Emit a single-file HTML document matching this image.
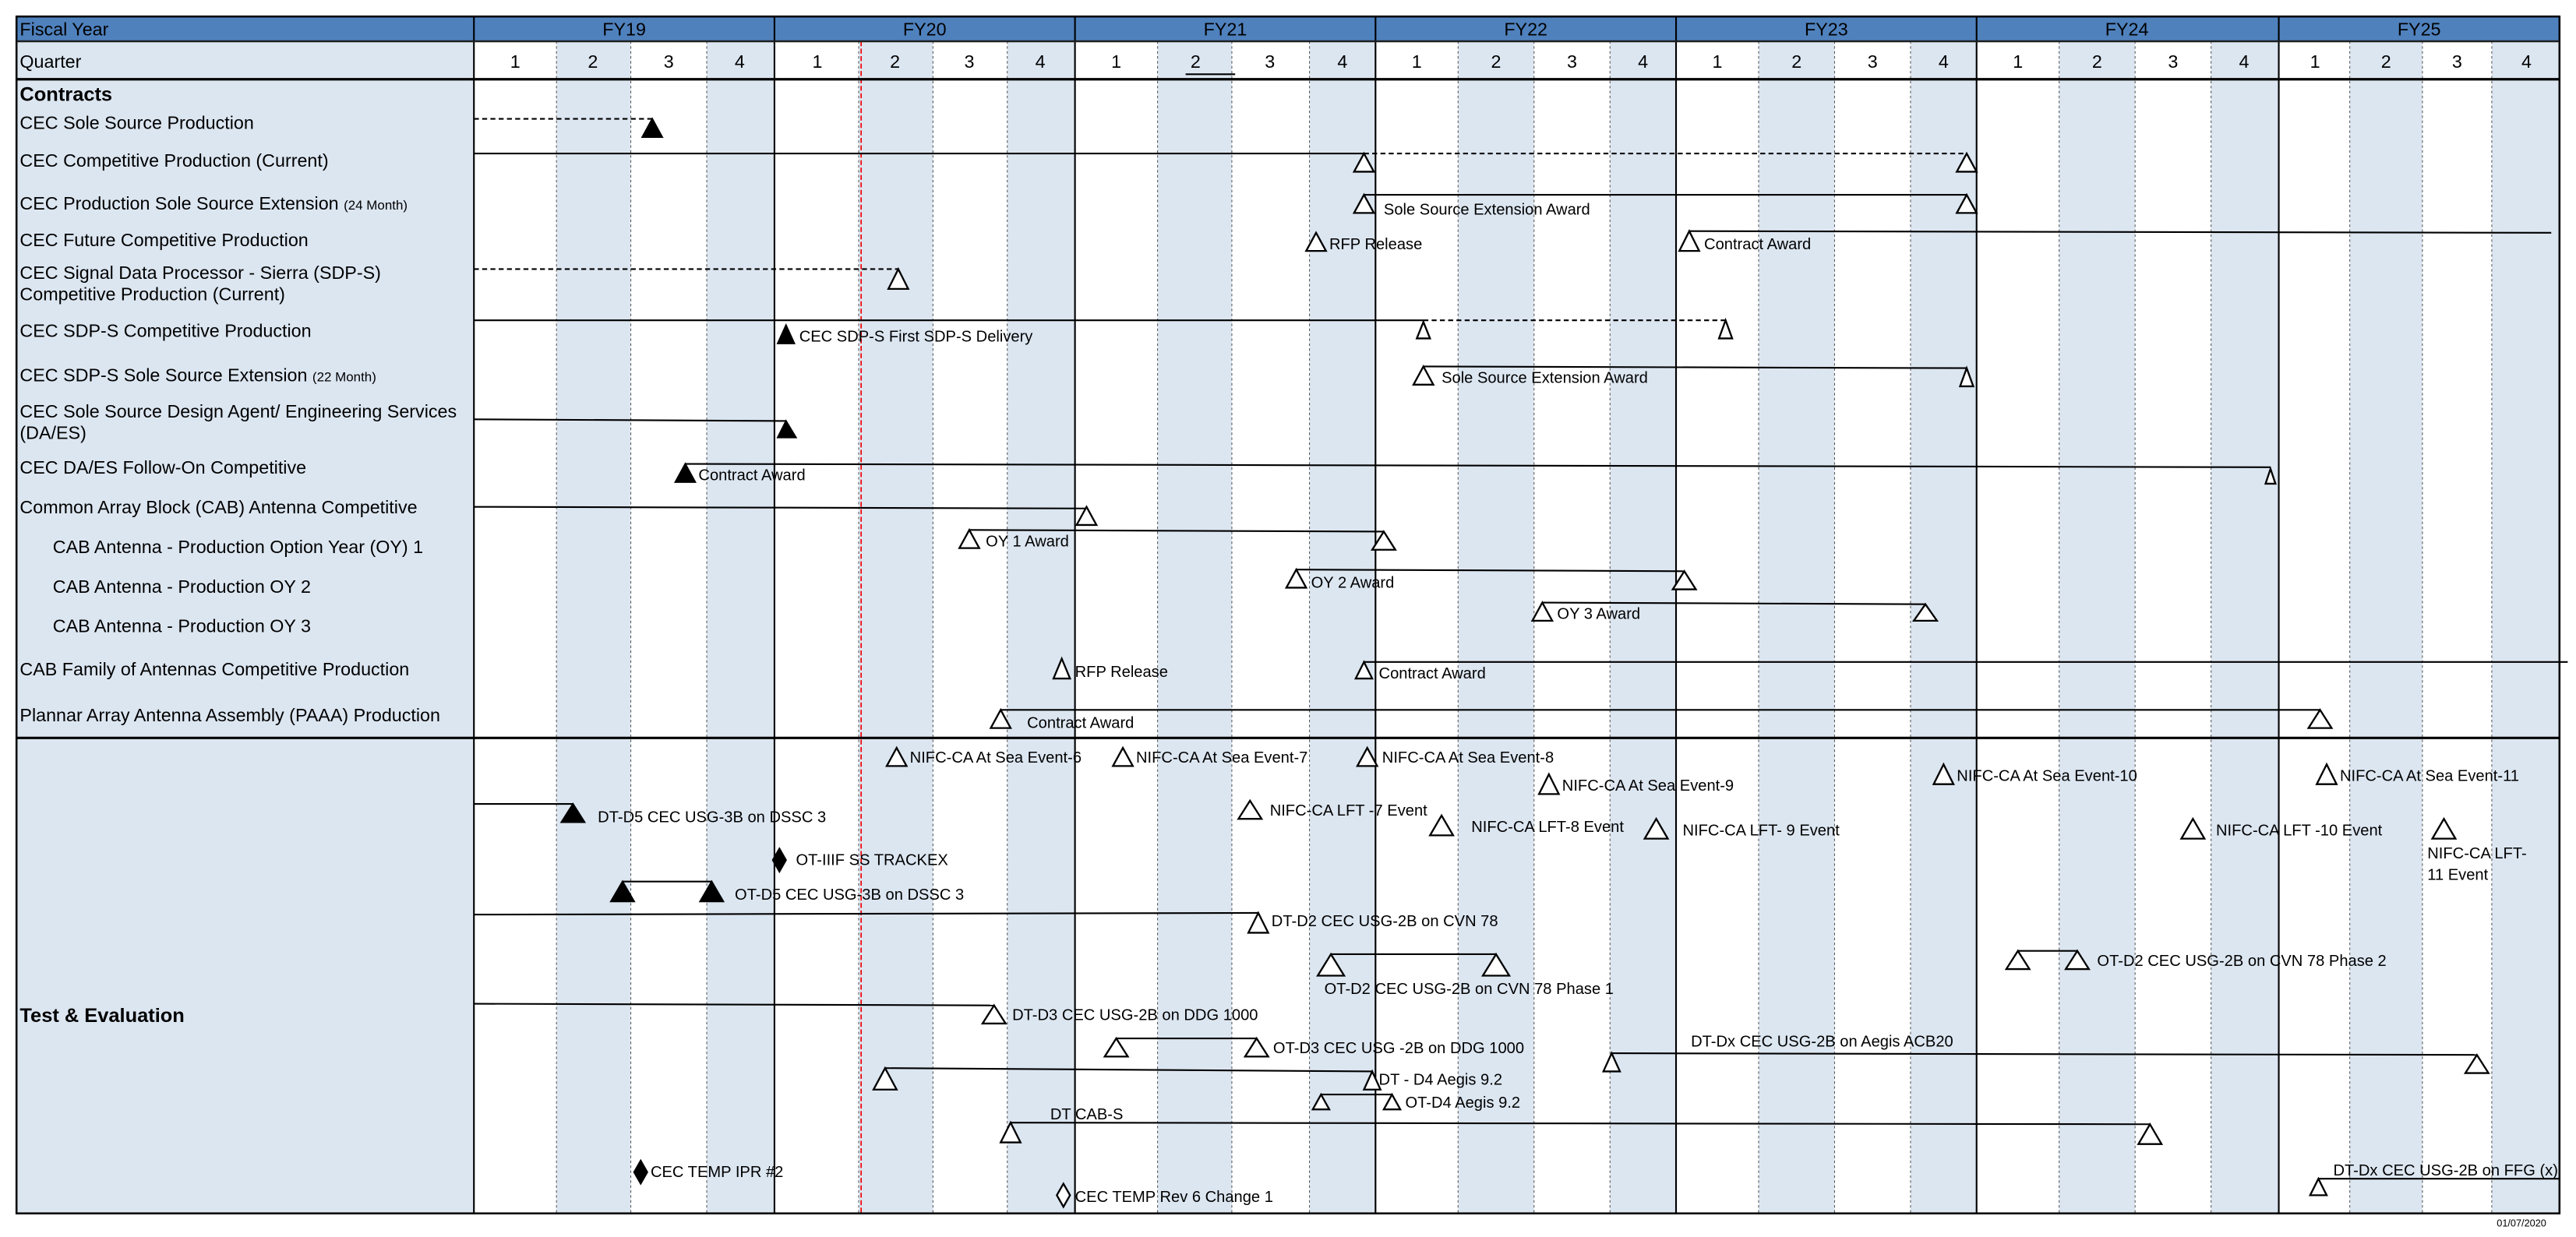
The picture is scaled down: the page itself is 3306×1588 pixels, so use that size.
<!DOCTYPE html>
<html><head><meta charset="utf-8"><style>
html,body{margin:0;padding:0;background:#fff;}
svg{display:block;}
text{font-family:"Liberation Sans Narrow","Liberation Sans",sans-serif;fill:#000;}
.m{font-size:9.5px;}
.r{font-size:11px;}
.o{fill:#fff;stroke:#000;stroke-width:1.1;}
.f{fill:#000;stroke:#000;stroke-width:1;}
.l{stroke:#000;stroke-width:1;fill:none;}
.d{stroke:#000;stroke-width:1;stroke-dasharray:3,2;fill:none;}
.q{stroke:#555;stroke-width:0.5;stroke-dasharray:1.5,1.5;}
.y{stroke:#000;stroke-width:1;}
</style></head><body>
<svg width="3306" height="1588" viewBox="0 0 1560 749.3" preserveAspectRatio="none" xmlns="http://www.w3.org/2000/svg">
<rect x="0" y="0" width="1560" height="749.3" fill="#fff"/>
<!-- label column -->
<rect x="10" y="25" width="277" height="710" fill="#dce6f1"/>
<!-- shaded quarters (2 & 4) -->
<g fill="#dce6f1">
<rect x="337" y="25" width="45" height="710"/><rect x="428" y="25" width="41" height="710"/>
<rect x="520" y="25" width="45" height="710"/><rect x="610" y="25" width="41" height="710"/>
<rect x="701" y="25" width="45" height="710"/><rect x="793" y="25" width="40" height="710"/>
<rect x="883" y="25" width="46" height="710"/><rect x="975" y="25" width="40" height="710"/>
<rect x="1065" y="25" width="46" height="710"/><rect x="1157" y="25" width="40" height="710"/>
<rect x="1247" y="25" width="46" height="710"/><rect x="1339" y="25" width="41" height="710"/>
<rect x="1423" y="25" width="44" height="710"/><rect x="1509" y="25" width="41" height="710"/>
</g>
<!-- quarter dashed lines -->
<g class="q">
<line x1="337" y1="25" x2="337" y2="735"/><line x1="382" y1="25" x2="382" y2="735"/><line x1="428" y1="25" x2="428" y2="735"/>
<line x1="520" y1="25" x2="520" y2="735"/><line x1="565" y1="25" x2="565" y2="735"/><line x1="610" y1="25" x2="610" y2="735"/>
<line x1="701" y1="25" x2="701" y2="735"/><line x1="746" y1="25" x2="746" y2="735"/><line x1="793" y1="25" x2="793" y2="735"/>
<line x1="883" y1="25" x2="883" y2="735"/><line x1="929" y1="25" x2="929" y2="735"/><line x1="975" y1="25" x2="975" y2="735"/>
<line x1="1065" y1="25" x2="1065" y2="735"/><line x1="1111" y1="25" x2="1111" y2="735"/><line x1="1157" y1="25" x2="1157" y2="735"/>
<line x1="1247" y1="25" x2="1247" y2="735"/><line x1="1293" y1="25" x2="1293" y2="735"/><line x1="1339" y1="25" x2="1339" y2="735"/>
<line x1="1423" y1="25" x2="1423" y2="735"/><line x1="1467" y1="25" x2="1467" y2="735"/><line x1="1509" y1="25" x2="1509" y2="735"/>
</g>
<line x1="521.5" y1="25" x2="521.5" y2="735" stroke="#e00" stroke-width="0.8" stroke-dasharray="3,1.5"/>
<!-- header -->
<rect x="10" y="10" width="1540" height="15" fill="#4f81bd"/>
<g class="y">
<line x1="287" y1="10" x2="287" y2="735"/><line x1="469" y1="10" x2="469" y2="735"/><line x1="651" y1="10" x2="651" y2="735"/>
<line x1="833" y1="10" x2="833" y2="735"/><line x1="1015" y1="10" x2="1015" y2="735"/><line x1="1197" y1="10" x2="1197" y2="735"/>
<line x1="1380" y1="10" x2="1380" y2="735"/>
</g>
<rect x="10" y="10" width="1540" height="725" fill="none" stroke="#000" stroke-width="1.2"/>
<line x1="10" y1="25" x2="1550" y2="25" stroke="#1f1f1f" stroke-width="1.2"/>
<line x1="10" y1="48" x2="1550" y2="48" stroke="#000" stroke-width="1.5"/>
<line x1="10" y1="447" x2="1550" y2="447" stroke="#000" stroke-width="1.5"/>
<text class="r" x="12" y="21.5" font-size="12">Fiscal Year</text>
<g class="r" text-anchor="middle" font-size="12">
<text x="378" y="21.5">FY19</text><text x="560" y="21.5">FY20</text><text x="742" y="21.5">FY21</text><text x="924" y="21.5">FY22</text><text x="1106" y="21.5">FY23</text><text x="1288" y="21.5">FY24</text><text x="1465" y="21.5">FY25</text>
<text x="312" y="41">1</text><text x="359" y="41">2</text><text x="405" y="41">3</text><text x="448" y="41">4</text>
<text x="495" y="41">1</text><text x="542" y="41">2</text><text x="587" y="41">3</text><text x="630" y="41">4</text>
<text x="676" y="41">1</text><text x="724" y="41">2</text><text x="769" y="41">3</text><text x="813" y="41">4</text>
<text x="858" y="41">1</text><text x="906" y="41">2</text><text x="952" y="41">3</text><text x="995" y="41">4</text>
<text x="1040" y="41">1</text><text x="1088" y="41">2</text><text x="1134" y="41">3</text><text x="1177" y="41">4</text>
<text x="1222" y="41">1</text><text x="1270" y="41">2</text><text x="1316" y="41">3</text><text x="1359" y="41">4</text>
<text x="1402" y="41">1</text><text x="1445" y="41">2</text><text x="1488" y="41">3</text><text x="1530" y="41">4</text>
</g>
<line x1="718" y1="45" x2="748" y2="45" stroke="#000" stroke-width="1"/>
<text class="r" x="12" y="41" font-size="12">Quarter</text>
<!-- row labels -->
<g class="r">
<text x="12" y="61" font-weight="bold" font-size="12">Contracts</text>
<text x="12" y="78">CEC Sole Source Production</text>
<text x="12" y="101">CEC Competitive Production (Current)</text>
<text x="12" y="127">CEC Production Sole Source Extension <tspan font-size="8">(24 Month)</tspan></text>
<text x="12" y="149">CEC Future Competitive Production</text>
<text x="12" y="169">CEC Signal Data Processor - Sierra (SDP-S)</text>
<text x="12" y="182">Competitive Production (Current)</text>
<text x="12" y="204">CEC SDP-S Competitive Production</text>
<text x="12" y="231">CEC SDP-S Sole Source Extension <tspan font-size="8">(22 Month)</tspan></text>
<text x="12" y="253">CEC Sole Source Design Agent/ Engineering Services</text>
<text x="12" y="266">(DA/ES)</text>
<text x="12" y="287">CEC DA/ES Follow-On Competitive</text>
<text x="12" y="311">Common Array Block (CAB) Antenna Competitive</text>
<text x="32" y="335">CAB Antenna - Production Option Year (OY) 1</text>
<text x="32" y="359">CAB Antenna - Production OY 2</text>
<text x="32" y="383">CAB Antenna - Production OY 3</text>
<text x="12" y="409">CAB Family of Antennas Competitive Production</text>
<text x="12" y="437">Plannar Array Antenna Assembly (PAAA) Production</text>
<text x="12" y="619" font-weight="bold" font-size="12">Test &amp; Evaluation</text>
</g>
<!-- contracts -->
<line class="d" x1="287" y1="72" x2="395" y2="72"/>
<polygon class="f" points="395,72 389,83 401,83"/>
<line class="l" x1="287" y1="93" x2="826" y2="93"/><line class="d" x1="826" y1="93" x2="1191" y2="93"/>
<polygon class="o" points="826,93 820,104 832,104"/><polygon class="o" points="1191,93 1185,104 1197,104"/>
<line class="l" x1="826" y1="118" x2="1191" y2="118"/>
<polygon class="o" points="826,118 820,129 832,129"/><polygon class="o" points="1191,118 1185,129 1197,129"/>
<text class="m" x="838" y="130">Sole Source Extension Award</text>
<polygon class="o" points="797,141 791,152 803,152"/><text class="m" x="805" y="151">RFP Release</text>
<line class="l" x1="1023" y1="140" x2="1545" y2="141"/>
<polygon class="o" points="1023,140 1017,152 1029,152"/><text class="m" x="1032" y="151">Contract Award</text>
<line class="d" x1="287" y1="163" x2="544" y2="163"/>
<polygon class="o" points="544,163 538,175 550,175"/>
<line class="l" x1="287" y1="194" x2="862" y2="194"/><line class="d" x1="862" y1="194" x2="1045" y2="194"/>
<polygon class="o" points="862,195 858,205 866,205"/><polygon class="o" points="1045,194 1041,205 1049,205"/>
<polygon class="f" points="476,197 471,208 481,208"/><text class="m" x="484" y="207">CEC SDP-S First SDP-S Delivery</text>
<line class="l" x1="862" y1="222" x2="1191" y2="223"/>
<polygon class="o" points="862,222 856,233 868,233"/><text class="m" x="873" y="232">Sole Source Extension Award</text>
<polygon class="o" points="1191,223 1187,234 1195,234"/>
<line class="l" x1="287" y1="254" x2="476" y2="255"/>
<polygon class="f" points="476,255 471,265 482,265"/>
<line class="l" x1="415" y1="281" x2="1375" y2="283"/>
<polygon class="f" points="415,281 409,292 421,292"/><text class="m" x="423" y="291">Contract Award</text>
<polygon class="o" points="1375,284 1372,293 1378,293"/>
<line class="l" x1="287" y1="307" x2="658" y2="308"/>
<polygon class="o" points="658,307 652,318 664,318"/>
<line class="l" x1="587" y1="321" x2="838" y2="322"/>
<polygon class="o" points="587,321 581,332 593,332"/><text class="m" x="597" y="331">OY 1 Award</text>
<polygon class="o" points="838,322 831,333 845,333"/>
<line class="l" x1="785" y1="345" x2="1020" y2="346"/>
<polygon class="o" points="785,345 779,356 791,356"/><text class="m" x="794" y="356">OY 2 Award</text>
<polygon class="o" points="1020,346 1013,357 1027,357"/>
<line class="l" x1="934" y1="365" x2="1166" y2="366"/>
<polygon class="o" points="934,365 928,376 940,376"/><text class="m" x="943" y="375">OY 3 Award</text>
<polygon class="o" points="1166,366 1159,376 1173,376"/>
<polygon class="o" points="643,399 638,411 648,411"/><text class="m" x="651" y="410">RFP Release</text>
<line class="l" x1="826" y1="401" x2="1555" y2="401"/>
<polygon class="o" points="826,401 821,411 831,411"/><text class="m" x="835" y="411">Contract Award</text>
<line class="l" x1="606" y1="430" x2="1405" y2="430"/>
<polygon class="o" points="606,430 600,441 612,441"/><text class="m" x="622" y="441">Contract Award</text>
<polygon class="o" points="1405,430 1398,441 1412,441"/>
<!-- T&E -->
<polygon class="o" points="543,453 537,464 549,464"/><text class="m" x="551" y="462">NIFC-CA At Sea Event-6</text>
<polygon class="o" points="680,453 674,464 686,464"/><text class="m" x="688" y="462">NIFC-CA At Sea Event-7</text>
<polygon class="o" points="828,453 822,464 834,464"/><text class="m" x="837" y="462">NIFC-CA At Sea Event-8</text>
<polygon class="o" points="938,469 932,481 944,481"/><text class="m" x="946" y="479">NIFC-CA At Sea Event-9</text>
<polygon class="o" points="1177,463 1171,475 1183,475"/><text class="m" x="1185" y="473">NIFC-CA At Sea Event-10</text>
<polygon class="o" points="1409,463 1403,475 1415,475"/><text class="m" x="1417" y="473">NIFC-CA At Sea Event-11</text>
<line class="l" x1="287" y1="487" x2="347" y2="487"/>
<polygon class="f" points="347,487 340,498 354,498"/><text class="m" x="362" y="498">DT-D5 CEC USG-3B on DSSC 3</text>
<polygon class="o" points="757,485 750,496 764,496"/><text class="m" x="769" y="494">NIFC-CA LFT -7 Event</text>
<polygon class="o" points="873,494 866,506 880,506"/><text class="m" x="891" y="504">NIFC-CA LFT-8 Event</text>
<polygon class="o" points="1003,496 996,508 1010,508"/><text class="m" x="1019" y="506">NIFC-CA LFT- 9 Event</text>
<polygon class="o" points="1328,496 1321,508 1335,508"/><text class="m" x="1342" y="506">NIFC-CA LFT -10 Event</text>
<polygon class="o" points="1480,496 1473,508 1487,508"/>
<text class="m" x="1470" y="520">NIFC-CA  LFT-</text><text class="m" x="1470" y="533">11 Event</text>
<polygon class="f" points="472,514 476,521 472,528 468,521"/><text class="m" x="482" y="524">OT-IIIF SS TRACKEX</text>
<line class="l" x1="377" y1="534" x2="431" y2="534"/>
<polygon class="f" points="377,534 370,546 384,546"/><polygon class="f" points="431,534 424,546 438,546"/>
<text class="m" x="445" y="545">OT-D5 CEC USG-3B on DSSC 3</text>
<line class="l" x1="287" y1="554" x2="762" y2="553"/>
<polygon class="o" points="762,553 756,565 768,565"/><text class="m" x="770" y="561">DT-D2 CEC USG-2B on CVN 78</text>
<line class="l" x1="806" y1="578" x2="906" y2="578"/>
<polygon class="o" points="806,578 798,591 814,591"/><polygon class="o" points="906,578 898,591 914,591"/>
<text class="m" x="802" y="602">OT-D2 CEC USG-2B on CVN 78 Phase 1</text>
<line class="l" x1="1222" y1="576" x2="1258" y2="576"/>
<polygon class="o" points="1222,576 1215,587 1229,587"/><polygon class="o" points="1258,576 1251,587 1265,587"/>
<text class="m" x="1270" y="585">OT-D2 CEC USG-2B on CVN 78 Phase 2</text>
<line class="l" x1="287" y1="608" x2="602" y2="609"/>
<polygon class="o" points="602,609 595,620 609,620"/><text class="m" x="613" y="618">DT-D3  CEC USG-2B on DDG 1000</text>
<line class="l" x1="676" y1="629" x2="761" y2="629"/>
<polygon class="o" points="676,629 669,640 683,640"/><polygon class="o" points="761,629 754,640 768,640"/>
<text class="m" x="771" y="638">OT-D3  CEC USG -2B on DDG 1000</text>
<line class="l" x1="976" y1="638" x2="1500" y2="639"/>
<polygon class="o" points="976,638 971,649 981,649"/><polygon class="o" points="1500,639 1493,650 1507,650"/>
<text class="m" x="1024" y="634">DT-Dx CEC USG-2B on Aegis ACB20</text>
<line class="l" x1="536" y1="647" x2="831" y2="649"/>
<polygon class="o" points="536,647 529,660 543,660"/><polygon class="o" points="831,649 826,660 836,660"/>
<text class="m" x="835" y="657">DT - D4  Aegis 9.2</text>
<line class="l" x1="800" y1="663" x2="843" y2="663"/>
<polygon class="o" points="800,663 795,672 805,672"/><polygon class="o" points="843,663 838,672 848,672"/>
<text class="m" x="851" y="671">OT-D4 Aegis 9.2</text>
<line class="l" x1="612" y1="680" x2="1302" y2="681"/>
<polygon class="o" points="612,680 606,692 618,692"/><polygon class="o" points="1302,681 1295,693 1309,693"/>
<text class="m" x="636" y="678">DT CAB-S</text>
<polygon class="f" points="388,703 392,710 388,717 384,710"/><text class="m" x="394" y="713">CEC TEMP IPR #2</text>
<polygon class="o" points="644,717 648,724 644,731 640,724"/><text class="m" x="651" y="728">CEC TEMP Rev 6 Change 1</text>
<line class="l" x1="1404" y1="714" x2="1550" y2="714"/>
<polygon class="o" points="1404,714 1399,724 1409,724"/>
<text class="m" x="1413" y="712">DT-Dx CEC USG-2B on FFG (x)</text>
<text x="1512" y="743" font-size="6">01/07/2020</text>
</svg>
</body></html>
